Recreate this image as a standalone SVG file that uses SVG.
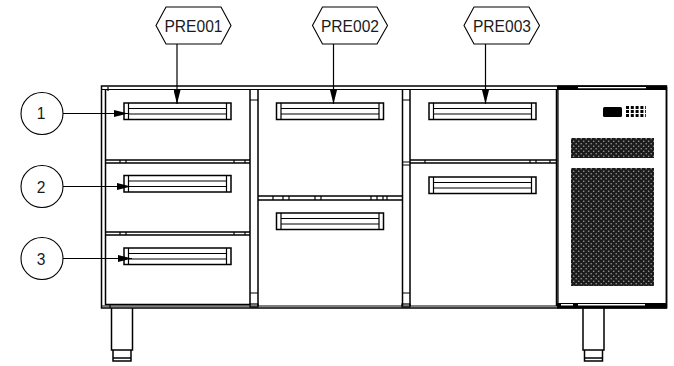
<svg xmlns="http://www.w3.org/2000/svg" width="674" height="366" viewBox="0 0 674 366">
<style>
.l{fill:none;stroke:#000;stroke-width:1.2}
.b{fill:none;stroke:#000;stroke-width:1.5}
.t{font-family:"Liberation Sans",Arial,sans-serif;font-size:15.600px;fill:#1a1a1a;text-anchor:middle}
.n{fill:#fff;stroke:#000;stroke-width:1.100}
.c{stroke:#000;stroke-width:1.200;fill:none}
</style>
<defs>
<marker id="a" markerUnits="userSpaceOnUse" markerWidth="14" markerHeight="7" refX="14" refY="3.5" orient="auto"><path d="M0 0L14 3.5L0 7Z" fill="#000"/></marker>
<pattern id="v" patternUnits="userSpaceOnUse" width="5" height="5"><rect width="5" height="5" fill="#1c1c1c"/><circle cx="1.200" cy="3.800" r=".8" fill="#9a9a9a"/><circle cx="3.700" cy="1.300" r=".8" fill="#9a9a9a"/></pattern>
<g id="h"><rect class="b" x="0" y="0" width="107" height="16.500"/><path class="l" d="M4.500 0V16.500M102.500 0V16.500M4.500 5.500H102.500M4.500 11H102.500"/></g>
</defs>
<g id="cabinet">
<rect class="b" x="101.500" y="86" width="565" height="222"/>
<path class="l" d="M101.500 89.500H557"/>
<path class="b" d="M105.500 90V304.500H250V90M105.500 160H250M105.500 163H250M105.500 232H250M105.500 235H250"/>
<path class="l" d="M108 87V91M120 160V163M126 160V163M234 160V163M245 160V163M120 232V235M126 232V235M234 232V235M245 232V235"/>
<path class="b" d="M258 90V306M402.500 90V306M258 196H402.500M258 200H402.500"/>
<path class="l" d="M250 100H258M250 293H258M402 100H410M402 293H410M402 162H410M402 165H410M273 196V200M283 196V200M289 196V200M315 196V200M321 196V200M371 196V200M377 196V200M383 196V200M387 196V200"/>
<path class="b" d="M410 90V306M556.500 90V306M410 160H556.500M410 163H556.500"/>
<path class="l" d="M425 160V163M530 160V163M536 160V163M550 160V163M101.500 306H560M110 304V308"/>
<rect class="l" x="250" y="304" width="8" height="3"/>
<rect class="l" x="402" y="304" width="8" height="3"/>
</g>
<g id="drawer-handles">
<use href="#h" x="124" y="103"/><use href="#h" x="124" y="175.500"/><use href="#h" x="124" y="248"/>
<use href="#h" x="276.500" y="103"/><use href="#h" x="276.500" y="213"/>
<use href="#h" x="429" y="103"/><use href="#h" x="429" y="177"/>
</g>
<g id="control-panel">
<path class="b" d="M558 87V308M666.500 87V308"/>
<path d="M557 85.500H667V90H557ZM557 303H667V308.500H557Z" fill="#000"/>
<path d="M578 87H646V88.300H578ZM561 304H573V305.500H561ZM578 304H645V305.500H578ZM558.800 90H560V303H558.800Z" fill="#fff"/>
<rect x="603" y="107" width="19" height="10" rx="1.500" fill="#000"/>
<path d="M626 107.500h20M626 111.500h20M626 115.500h20" stroke="#000" stroke-width="3" stroke-dasharray="3 1.800"/>
<rect x="571" y="138" width="83" height="20" fill="url(#v)"/>
<rect x="571" y="168" width="83" height="118" fill="url(#v)"/>
</g>
<g id="legs">
<path class="b" d="M111.500 308V350H132.500V308M113 350V361H131V350M113 358H131"/>
<path class="b" d="M583 308V350H604V308M584.500 350V361H602.500V350M584.500 358H602.500"/>
</g>
<g id="connectors">
<path class="c" marker-end="url(#a)" d="M177 44V104"/>
<path class="c" marker-end="url(#a)" d="M333.500 44V104"/>
<path class="c" marker-end="url(#a)" d="M485.500 44V104"/>
<path class="c" marker-end="url(#a)" d="M63 113.500H128"/>
<path class="c" marker-end="url(#a)" d="M63 186.500H131"/>
<path class="c" marker-end="url(#a)" d="M63 258.500H132"/>
</g>
<g id="PRE001"><path class="n" d="M166 7H221L231 25.500L221 44H166L156 25.500Z"/><text class="t" x="193.500" y="31.500">PRE001</text></g>
<g id="PRE002"><path class="n" d="M322.500 7H377L387.500 25.500L377 44H322.500L312.500 25.500Z"/><text class="t" x="350" y="31.500">PRE002</text></g>
<g id="PRE003"><path class="n" d="M474 7H529L539.500 25.500L529 44H474L464 25.500Z"/><text class="t" x="502" y="31.500">PRE003</text></g>
<g id="n1"><circle class="n" cx="42" cy="113.500" r="21"/><text class="t" x="41" y="119">1</text></g>
<g id="n2"><circle class="n" cx="42" cy="186.500" r="21"/><text class="t" x="41" y="192.500">2</text></g>
<g id="n3"><circle class="n" cx="42" cy="258.500" r="21"/><text class="t" x="41" y="264.500">3</text></g>
</svg>
